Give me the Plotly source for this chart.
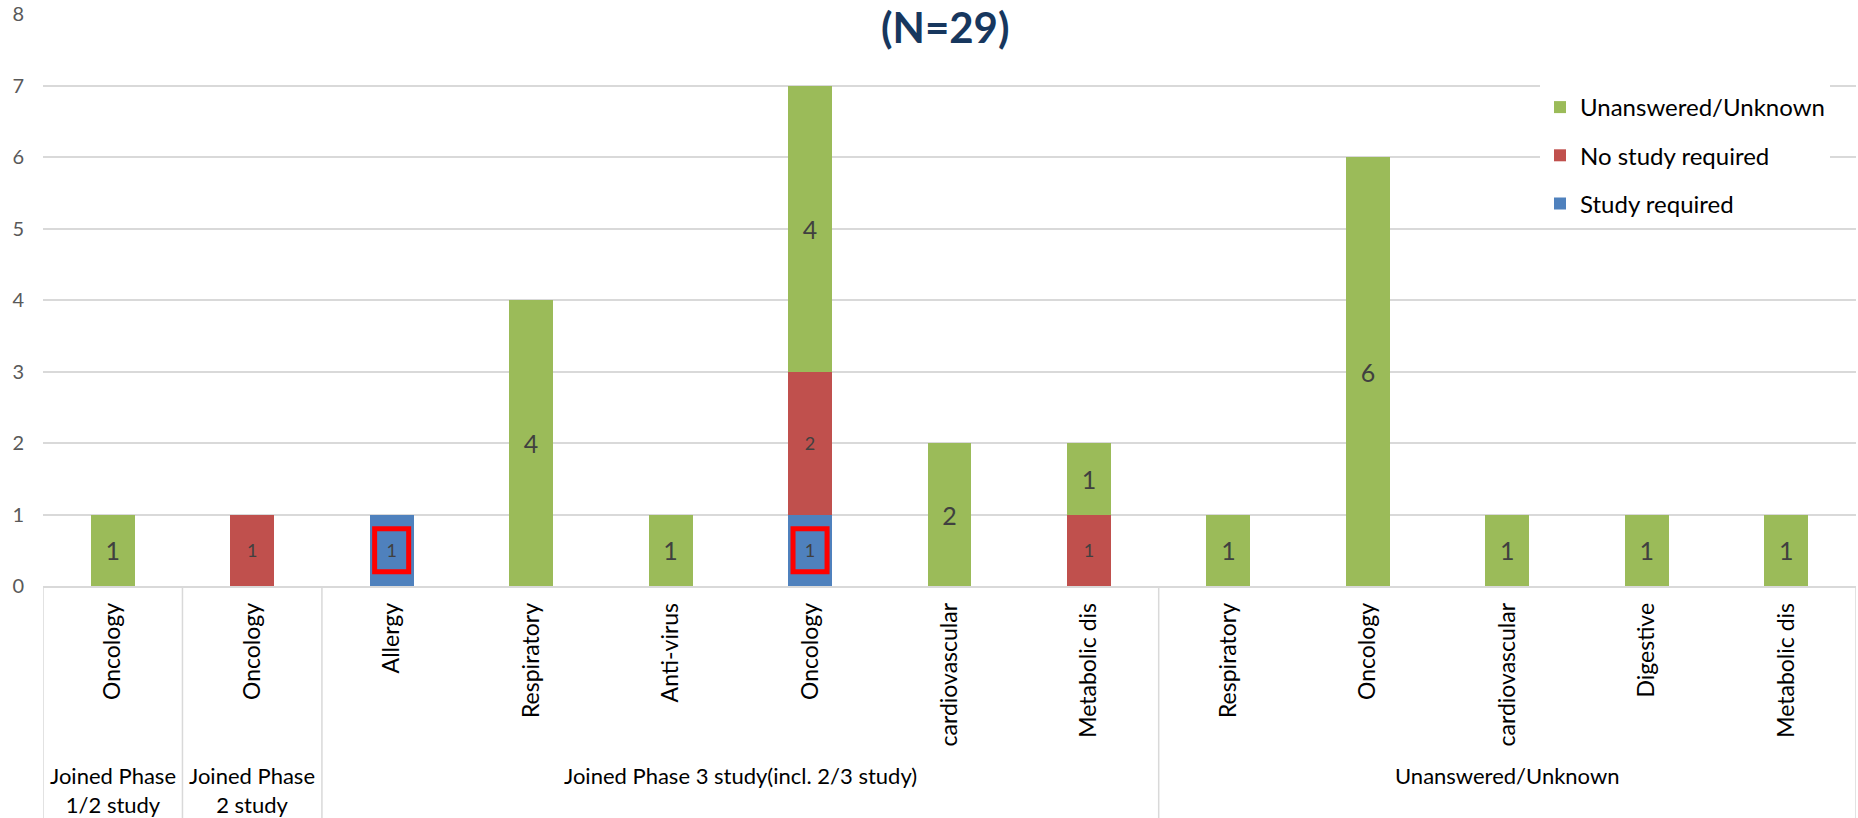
import plotly.graph_objects as go

# ---- data ----
categories = ["Oncology", "Oncology", "Allergy", "Respiratory", "Anti-virus", "Oncology",
              "cardiovascular", "Metabolic dis", "Respiratory", "Oncology", "cardiovascular",
              "Digestive", "Metabolic dis"]
group_names = ["Joined Phase<br>1/2 study", "Joined Phase<br>2 study",
               "Joined Phase 3 study(incl. 2/3 study)", "Unanswered/Unknown"]
group_sizes = [1, 1, 6, 5]

study_required = [0, 0, 1, 0, 0, 1, 0, 0, 0, 0, 0, 0, 0]
no_study_required = [0, 1, 0, 0, 0, 2, 0, 1, 0, 0, 0, 0, 0]
unanswered = [1, 0, 0, 4, 1, 4, 2, 1, 1, 6, 1, 1, 1]

title_text = "(N=29)"
y_ticks = [0, 1, 2, 3, 4, 5, 6, 7, 8]

# ---- styles ----
C_BLUE = "#4F81BD"
C_RED = "#C0504D"
C_GREEN = "#9BBB59"
GRID = "#D9D9D9"
FONT = "Lato, 'Open Sans', sans-serif"

W, H = 1858, 818
M_L, M_R, M_T, M_B = 43, 2, 14, 232
plot_h = H - M_T - M_B


def py(pix):
    """pixel y (from top) -> paper y"""
    return (H - M_B - pix) / plot_h


xs = list(range(len(categories)))


def nz(v):
    return [a if a else None for a in v]


fig = go.Figure()
series = [
    ("Study required", study_required, C_BLUE, 18, 3),
    ("No study required", no_study_required, C_RED, 18, 2),
    ("Unanswered/Unknown", unanswered, C_GREEN, 25, 1),
]
for name, vals, col, fs, rank in series:
    fig.add_trace(go.Bar(
        x=xs, y=nz(vals), name=name, legendgroup=name, legendrank=rank,
        marker=dict(color=col, line=dict(width=0)),
        width=0.315,
        text=[str(v) if v else "" for v in vals],
        textposition="inside", insidetextanchor="middle", textangle=0,
        textfont=dict(family=FONT, size=fs, color="#404040"),
        hoverinfo="skip",
    ))

shapes = []
# red highlight boxes around "Study required" labels
for i, v in enumerate(study_required):
    if v:
        shapes.append(dict(type="rect", xref="x", yref="y",
                           x0=i - 0.122, x1=i + 0.122, y0=v * 0.2, y1=v * 0.8,
                           line=dict(color="#FF0000", width=5), fillcolor="rgba(0,0,0,0)",
                           layer="above"))

# group dividers and labels
annotations = []
pos = -0.5
bounds = [pos]
for gname, gs in zip(group_names, group_sizes):
    center = pos + gs / 2
    annotations.append(dict(x=center, xref="x", y=py(760), yref="paper",
                            yanchor="top", xanchor="center", text=gname, showarrow=False,
                            font=dict(family=FONT, size=22, color="#000000"),
                            align="center"))
    pos += gs
    bounds.append(pos)
for b in bounds:
    shapes.append(dict(type="line", xref="x", yref="paper", x0=b, x1=b,
                       y0=0, y1=py(H), line=dict(color=GRID, width=1.5), layer="below"))

annotations.append(dict(x=(945 - M_L) / (W - M_L - M_R), xref="paper", y=py(27), yref="paper",
                        xanchor="center", yanchor="middle", text="<b>" + title_text + "</b>",
                        showarrow=False, font=dict(family=FONT, size=42, color="#17375E")))

fig.update_layout(
    width=W, height=H,
    margin=dict(l=M_L, r=M_R, t=M_T, b=M_B, pad=0),
    paper_bgcolor="white", plot_bgcolor="white",
    barmode="stack",
    bargap=0.685,
    showlegend=True,
    legend=dict(x=(1540 - M_L) / (W - M_L - M_R), y=py(85), xanchor="left", yanchor="top",
                bgcolor="white", borderwidth=0, traceorder="grouped",
                tracegroupgap=14,
                font=dict(family=FONT, size=24, color="#000000")),
    shapes=shapes,
    annotations=annotations,
    font=dict(family=FONT),
)
fig.update_xaxes(range=[-0.5, len(categories) - 0.5], tickmode="array", tickvals=xs,
                 ticktext=categories, tickangle=-90, ticks="", showgrid=False,
                 showline=True, linecolor=GRID, linewidth=1.5, zeroline=False,
                 ticklabelstandoff=6,
                 tickfont=dict(family=FONT, size=23, color="#000000"))
fig.update_yaxes(range=[0, 8], tickmode="array", tickvals=y_ticks, showgrid=True,
                 gridcolor=GRID, gridwidth=1.5, zeroline=False, showline=False, ticks="",
                 ticklabelstandoff=18,
                 tickfont=dict(family=FONT, size=20, color="#595959"))

fig.write_html("out.html")
